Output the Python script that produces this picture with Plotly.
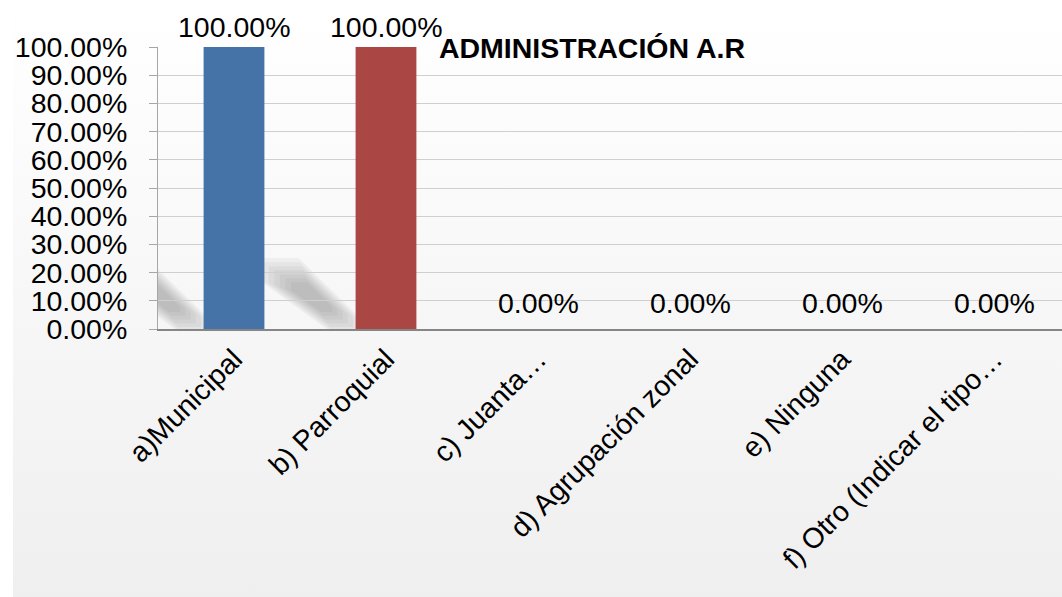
import base64
import plotly.graph_objects as go

# ---- data ----
categories = ["a)Municipal", "b) Parroquial", "c) Juanta…", "d) Agrupación zonal",
              "e) Ninguna", "f) Otro (Indicar el tipo…"]
values = [1.0, 1.0, 0.0, 0.0, 0.0, 0.0]
bar_colors = ["#4572A7", "#AA4643", "#89A54E", "#71588F", "#4198AF", "#DB843D"]
y_ticks = [0, 0.1, 0.2, 0.3, 0.4, 0.5, 0.6, 0.7, 0.8, 0.9, 1.0]
title_text = "ADMINISTRACIÓN A.R"

FONT = "Liberation Sans, Arial, sans-serif"
FS = 28.5
W, H = 1062, 597
ML, MR, MT, MB = 158, 0, 47, 268
idx = list(range(len(categories)))

fig = go.Figure()
fig.add_trace(go.Bar(
    x=idx, y=values, width=0.4,
    marker=dict(color=bar_colors, line=dict(width=0)),
    showlegend=False, hoverinfo="skip",
))

# data labels
annotations = []
for i, v in zip(idx, values):
    annotations.append(dict(
        x=i, y=v, xref="x", yref="y", text=f"{v:.2%}", showarrow=False,
        xanchor="center", yanchor="bottom", yshift=2 if v >= 1 else 8,
        font=dict(family=FONT, size=FS, color="#000000"),
    ))

# soft cast shadows for non-zero bars (stacked, shrinking translucent layers imitate blur)
shadow_outline = [(-0.59, 0.23), (-0.36, 0.23), (0.0, 0.04), (0.0, 0.0),
                  (-0.16, 0.0), (-0.59, 0.167)]
cx = sum(p[0] for p in shadow_outline) / len(shadow_outline)
cy = sum(p[1] for p in shadow_outline) / len(shadow_outline)
shapes = []
for i, v in zip(idx, values):
    if v <= 0:
        continue
    left = i - 0.2
    for s in [1.18, 1.06, 0.94, 0.82, 0.7, 0.58, 0.46]:
        pts = [(left + cx + (px - cx) * s, (cy + (py - cy) * s) * v) for px, py in shadow_outline]
        path = "M " + " L ".join(f"{x:.4f},{y:.4f}" for x, y in pts) + " Z"
        shapes.append(dict(type="path", path=path, xref="x", yref="y",
                           fillcolor="#6e6e6e", opacity=0.065, line=dict(width=0),
                           layer="below"))

# background gradient
svg = ("<svg xmlns='http://www.w3.org/2000/svg' width='100' height='100' viewBox='0 0 100 100' "
       "preserveAspectRatio='none'><defs><linearGradient id='g' x1='0' y1='0' x2='0' y2='1'>"
       "<stop offset='0' stop-color='#ffffff'/><stop offset='1' stop-color='#efefef'/>"
       "</linearGradient></defs><rect width='100' height='100' fill='url(#g)'/></svg>")
src = "data:image/svg+xml;base64," + base64.b64encode(svg.encode()).decode()
pw = W - ML - MR
ph = H - MT - MB
img = dict(source=src, xref="paper", yref="paper",
           x=(13 - ML) / pw, y=(H - MB) / ph, sizex=(W + 10 - 13) / pw, sizey=H / ph,
           xanchor="left", yanchor="top", sizing="stretch", layer="below")

fig.update_layout(
    width=W, height=H,
    margin=dict(l=ML, r=MR, t=MT, b=MB, pad=0),
    paper_bgcolor="#ffffff", plot_bgcolor="rgba(0,0,0,0)",
    images=[img], shapes=shapes, annotations=annotations,
    title=dict(text=f"<b>{title_text}</b>", x=592 / W, y=1 - 48 / H,
               xanchor="center", yanchor="middle", xref="container",
               font=dict(family=FONT, size=FS, color="#000000")),
    showlegend=False,
)
fig.update_xaxes(
    range=[-0.5, -0.5 + pw / 152.0],
    tickmode="array", tickvals=idx, ticktext=categories, tickangle=-45,
    tickfont=dict(family=FONT, size=FS, color="#000000"),
    showgrid=False, zeroline=False,
    showline=True, linecolor="#868686", linewidth=2,
    ticks="", fixedrange=True,
)
fig.update_yaxes(
    range=[0, 1], tickmode="array", tickvals=y_ticks, tickformat=".2%",
    tickfont=dict(family=FONT, size=FS, color="#000000"),
    showgrid=True, gridcolor="#cfcfcf", gridwidth=1,
    zeroline=False, showline=True, linecolor="#a6a6a6", linewidth=1,
    ticks="outside", ticklen=8, tickcolor="#a6a6a6",
    ticklabelstandoff=16, fixedrange=True,
)

fig.write_html("out.html")
